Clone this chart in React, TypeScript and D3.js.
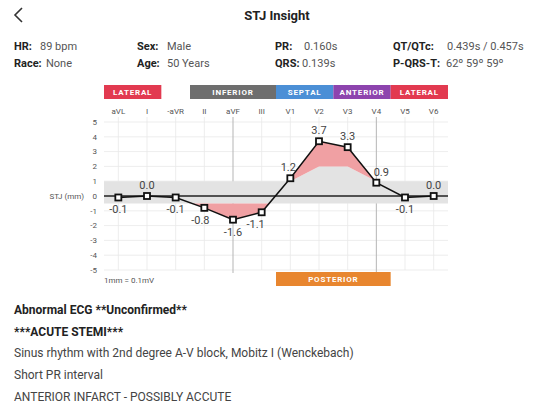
import React from 'react';
import * as d3 from 'd3';

// ---- data ----
const leads = ['aVL', 'I', '-aVR', 'II', 'aVF', 'III', 'V1', 'V2', 'V3', 'V4', 'V5', 'V6'];
const stjValues = [-0.1, 0.0, -0.1, -0.8, -1.6, -1.1, 1.2, 3.7, 3.3, 0.9, -0.1, 0.0];
const upperLimits = [1, 1, 1, 1, 1, 1, 1, 2, 2, 1, 1, 1];
const lowerLimit = -0.5;
const yTicks = [5, 4, 3, 2, 1, 0, -1, -2, -3, -4, -5];
const highlightLeads = ['aVF', 'V4'];

const regionNames = ['LATERAL', 'INFERIOR', 'SEPTAL', 'ANTERIOR', 'LATERAL'];
const regionFrom = ['aVL', 'II', 'V1', 'V3', 'V5'];
const regionTo = ['I', 'III', 'V2', 'V4', 'V6'];
const regionColors = ['#e23a50', '#6e6e6e', '#4b8fd6', '#8d44ae', '#e23a50'];
const posteriorName = 'POSTERIOR';
const posteriorFrom = 'V1';
const posteriorTo = 'V4';
const posteriorColor = '#e8862f';

const infoLabels = [
  ['HR:', '89 bpm'],
  ['Sex:', 'Male'],
  ['PR:', '0.160s'],
  ['QT/QTc:', '0.439s / 0.457s'],
  ['Race:', 'None'],
  ['Age:', '50 Years'],
  ['QRS:', '0.139s'],
  ['P-QRS-T:', '62º 59º 59º'],
];
const interpretation = [
  'Abnormal ECG **Unconfirmed**',
  '***ACUTE STEMI***',
  'Sinus rhythm with 2nd degree A-V block, Mobitz I (Wenckebach)',
  'Short PR interval',
  'ANTERIOR INFARCT - POSSIBLY ACCUTE',
];
const interpretationBold = [true, true, false, false, false];

// ---- presentation ----
const W = 539;
const H = 406;
const FONT = 'Roboto, "Noto Sans", sans-serif';
const infoX = [[14, 40], [137, 167], [275, 304], [393, 447], [14, 46], [137, 167], [275, 302], [393, 446]];
const labelDx = [0, 0, 0, -4, 0, -6, -2, 0, 0, 5, 0, 0];

export default function App() {
  const x = d3.scaleBand<string>().domain(leads).range([104, 448]).padding(0);
  const cx = (l: string) => (x(l) as number) + x.bandwidth() / 2;
  const y = d3.scaleLinear().domain([-5, 5]).range([270, 122]);
  const [x0, x1] = x.range();

  const pts = leads.map((l, i) => ({ l, v: stjValues[i], u: upperLimits[i] }));
  const bandPts = [{ xx: x0, u: upperLimits[0] }, ...pts.map((p) => ({ xx: cx(p.l), u: p.u })), { xx: x1, u: upperLimits[upperLimits.length - 1] }];

  const band = d3.area<any>().x((d) => d.xx).y0(y(lowerLimit)).y1((d) => y(d.u))(bandPts) as string;
  const upperClip = d3.area<any>().x((d) => d.xx).y0((d) => y(d.u)).y1(y(6))(bandPts) as string;
  const lowerClip = `M${x0},${y(lowerLimit)}H${x1}V${y(-6)}H${x0}Z`;
  const fillBelowLine = d3.area<any>().x((d) => cx(d.l)).y0(y(-5)).y1((d) => y(d.v))(pts) as string;
  const fillAboveLine = d3.area<any>().x((d) => cx(d.l)).y0(y(5)).y1((d) => y(d.v))(pts) as string;
  const line = d3.line<any>().x((d) => cx(d.l)).y((d) => y(d.v))(pts) as string;

  const gridTop = y(5) - 5;
  const boxY = 85;
  const boxH = 14;

  return (
    <svg width={W} height={H} style={{ position: 'absolute', left: 0, top: 0, background: '#fff' }} fontFamily={FONT}>
      <defs>
        <clipPath id="upClip"><path d={upperClip} /></clipPath>
        <clipPath id="lowClip"><path d={lowerClip} /></clipPath>
      </defs>

      {/* header */}
      <path d="M22,8 L15,15 L22,22" fill="none" stroke="#333" strokeWidth={1.6} />
      <text x={277} y={20} textAnchor="middle" fontSize={13} fontWeight="bold" fill="#222">STJ Insight</text>

      {infoLabels.map(([k, v], i) => (
        <g key={i}>
          <text x={infoX[i][0]} y={i < 4 ? 50 : 67} fontSize={11} fontWeight="bold" fill="#222">{k}</text>
          <text x={infoX[i][1]} y={i < 4 ? 50 : 67} fontSize={11} fill="#555">{v}</text>
        </g>
      ))}

      {/* region boxes */}
      {regionNames.map((n, i) => {
        const a = x(regionFrom[i]) as number;
        const b = (x(regionTo[i]) as number) + x.bandwidth();
        return (
          <g key={i}>
            <rect x={a} y={boxY} width={b - a} height={boxH} fill={regionColors[i]} />
            <text x={(a + b) / 2} y={boxY + boxH / 2} dy="0.35em" textAnchor="middle" fontSize={8} fontWeight="bold" fill="#fff" letterSpacing={0.8}>{n}</text>
          </g>
        );
      })}

      {/* lead labels */}
      {leads.map((l) => (
        <text key={l} x={cx(l)} y={111} dy="0.35em" textAnchor="middle" fontSize={8} fill="#555">{l}</text>
      ))}

      {/* grid */}
      {yTicks.map((t) => (
        <line key={t} x1={x0} x2={x1} y1={y(t)} y2={y(t)} stroke="#e9e9e9" strokeWidth={0.8} />
      ))}
      {leads.map((l) => (
        <line key={l} x1={cx(l)} x2={cx(l)} y1={gridTop} y2={highlightLeads.includes(l) ? y(-5) + 3 : y(-5)}
          stroke={highlightLeads.includes(l) ? '#b5b5b5' : '#e9e9e9'} strokeWidth={highlightLeads.includes(l) ? 1 : 0.8} />
      ))}

      {/* y tick labels */}
      {yTicks.map((t) => (
        <text key={t} x={97} y={y(t)} dy="0.35em" textAnchor="end" fontSize={8} fill="#555">{t}</text>
      ))}
      <text x={84} y={y(0)} dy="0.35em" textAnchor="end" fontSize={8} fill="#555">STJ (mm)</text>
      <text x={104} y={280} dy="0.35em" fontSize={8} fill="#555">1mm = 0.1mV</text>

      {/* threshold band */}
      <path d={band} fill="#e3e3e3" />
      {/* exceedance fills */}
      <path d={fillBelowLine} fill="#f0a0a3" clipPath="url(#upClip)" />
      <path d={fillAboveLine} fill="#f0a0a3" clipPath="url(#lowClip)" />

      {/* zero line */}
      <line x1={x0} x2={x1} y1={y(0)} y2={y(0)} stroke="#222" strokeWidth={1.4} />

      {/* data line */}
      <path d={line} fill="none" stroke="#111" strokeWidth={1.5} />
      {pts.map((p) => (
        <rect key={p.l} x={cx(p.l) - 3} y={y(p.v) - 3} width={6} height={6} fill="#fff" stroke="#111" strokeWidth={1.8} />
      ))}
      {pts.map((p, i) => (
        <text key={p.l} x={cx(p.l) + labelDx[i]} y={y(p.v) + (p.v >= 0 ? -11 : 12)} dy="0.35em" textAnchor="middle" fontSize={11} fill="#444">
          {p.v.toFixed(1)}
        </text>
      ))}

      {/* posterior box */}
      {(() => {
        const a = x(posteriorFrom) as number;
        const b = (x(posteriorTo) as number) + x.bandwidth();
        return (
          <g>
            <rect x={a} y={272} width={b - a} height={14} fill={posteriorColor} />
            <text x={(a + b) / 2} y={279} dy="0.35em" textAnchor="middle" fontSize={8} fontWeight="bold" fill="#fff" letterSpacing={0.8}>{posteriorName}</text>
          </g>
        );
      })()}

      {/* interpretation */}
      {interpretation.map((t, i) => (
        <text key={i} x={14} y={314 + i * 21.7} fontSize={12} fontWeight={interpretationBold[i] ? 'bold' : 'normal'} fill={interpretationBold[i] ? '#222' : '#444'}>{t}</text>
      ))}
    </svg>
  );
}
